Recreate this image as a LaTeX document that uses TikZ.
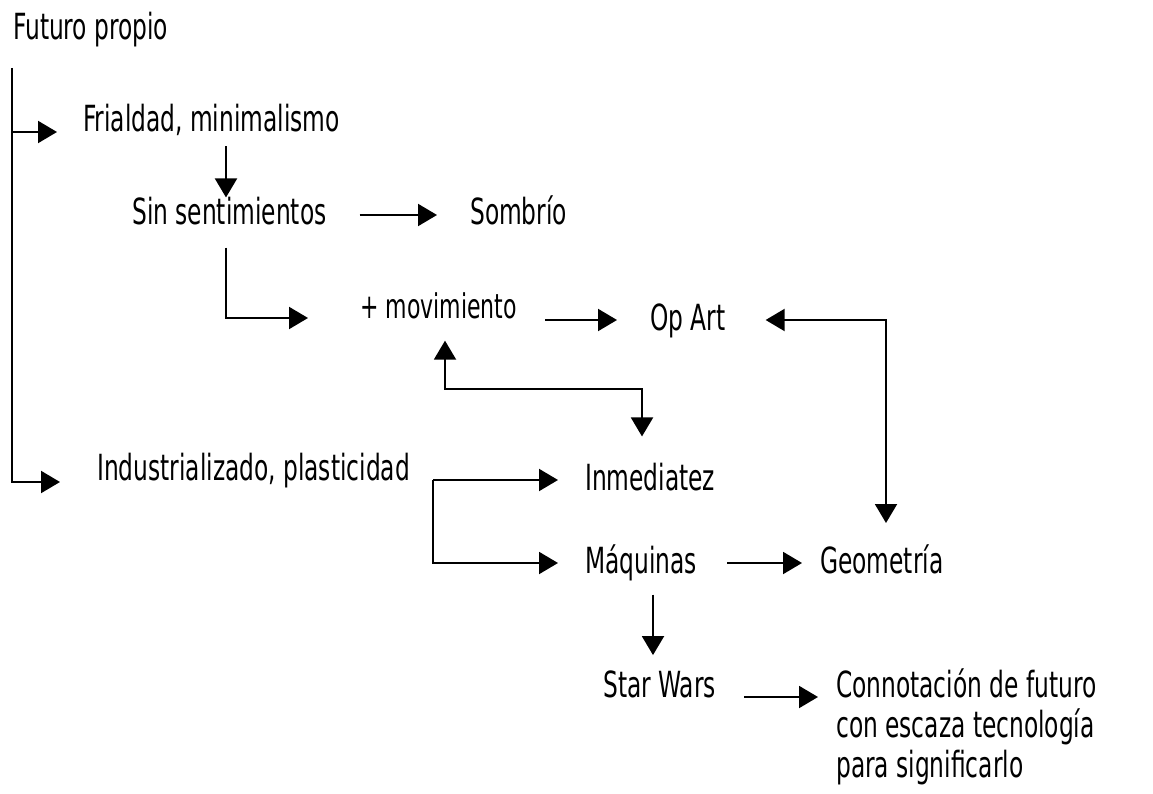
\documentclass[tikz,border=0pt]{standalone}
\usepackage{fontspec}
\setmainfont{DejaVu Sans Condensed}[FakeStretch=0.72]
\usetikzlibrary{arrows.meta}

\begin{document}
\begin{tikzpicture}[
    x=1pt, y=-1pt,
    font=\fontsize{36}{40}\selectfont,
    lbl/.style={inner sep=0pt, anchor=base west},
    flow/.style={-{Triangle[length=19pt,width=22pt]}, line width=2pt},
    dflow/.style={{Triangle[length=19pt,width=22pt]}-{Triangle[length=19pt,width=22pt]}, line width=2pt}
  ]
  \useasboundingbox (0,0) rectangle (1153,794);

  % --- texts
  \node[lbl] (fut) at (13,40) {Futuro propio};
  \node[lbl] (fria) at (83,132) {Frialdad, minimalismo};
  \node[lbl] (sin) at (132,225) {Sin sentimientos};
  \node[lbl] (somb) at (470,225) {Sombrío};
  \node[lbl, font=\fontsize{34}{38}\selectfont] (mov) at (360,318) {+ movimiento};
  \node[lbl] (opart) at (650,330) {Op Art};
  \node[lbl] (indus) at (97,480) {Industrializado, plasticidad};
  \node[lbl] (inme) at (585,490) {Inmediatez};
  \node[lbl] (maq) at (585,573) {Máquinas};
  \node[lbl] (geo) at (820,573) {Geometría};
  \node[lbl] (star) at (603,697) {Star Wars};
  \node[lbl, align=left] (conn) at (836,777)
    {Connotación de futuro\\con escaza tecnología\\para significarlo};

  % --- left spine
  \coordinate (root) at (12,68);
  \draw[flow, shorten >=37pt] (root) |- ([yshift=-2pt]indus.base west);
  \draw[flow, shorten >=26pt] (root |- fria.base west) -- (fria.base west);

  % --- upper branch
  \draw[flow, shorten <=10pt] ([xshift=94pt]sin.north west |- fria.south)
    -- ([xshift=94pt]sin.north west);
  \draw[flow, shorten <=33pt, shorten >=33pt] ([yshift=10pt]sin.base east)
    -- ([yshift=10pt]sin.base east -| somb.west);
  \draw[flow, shorten <=22pt, shorten >=52pt] ([xshift=94pt]sin.south west) |- (mov.base west);
  \draw[flow, shorten <=28pt, shorten >=33pt] ([yshift=10pt]mov.east |- opart.base west)
    -- ([yshift=10pt]opart.base west);
  \draw[dflow, shorten <=40pt, shorten >=21pt] ([yshift=10pt]opart.base east)
    -| ([xshift=66pt]geo.north west);
  \draw[dflow, shorten <=22pt, shorten >=26pt] ([xshift=85pt]mov.south west)
    -- ++(0,70) -| ([xshift=57pt]inme.north west);

  % --- lower branch
  \draw[flow, shorten >=27pt] ([xshift=-152pt, yshift=10pt]inme.base west) coordinate (brk)
    -- ([yshift=10pt]inme.base west);
  \draw[flow, shorten >=27pt] (brk) |- ([yshift=10pt]maq.base west);
  \draw[flow, shorten <=30pt, shorten >=18pt] ([yshift=10pt]maq.base east)
    -- ([yshift=10pt]geo.base west);
  \draw[flow, shorten <=14pt, shorten >=15pt] ([xshift=50pt]star.north west |- maq.south)
    -- ([xshift=50pt]star.north west);
  \draw[flow, shorten <=28pt, shorten >=18pt] (star.base east) -- (star.base east -| conn.west);

\end{tikzpicture}
\end{document}
